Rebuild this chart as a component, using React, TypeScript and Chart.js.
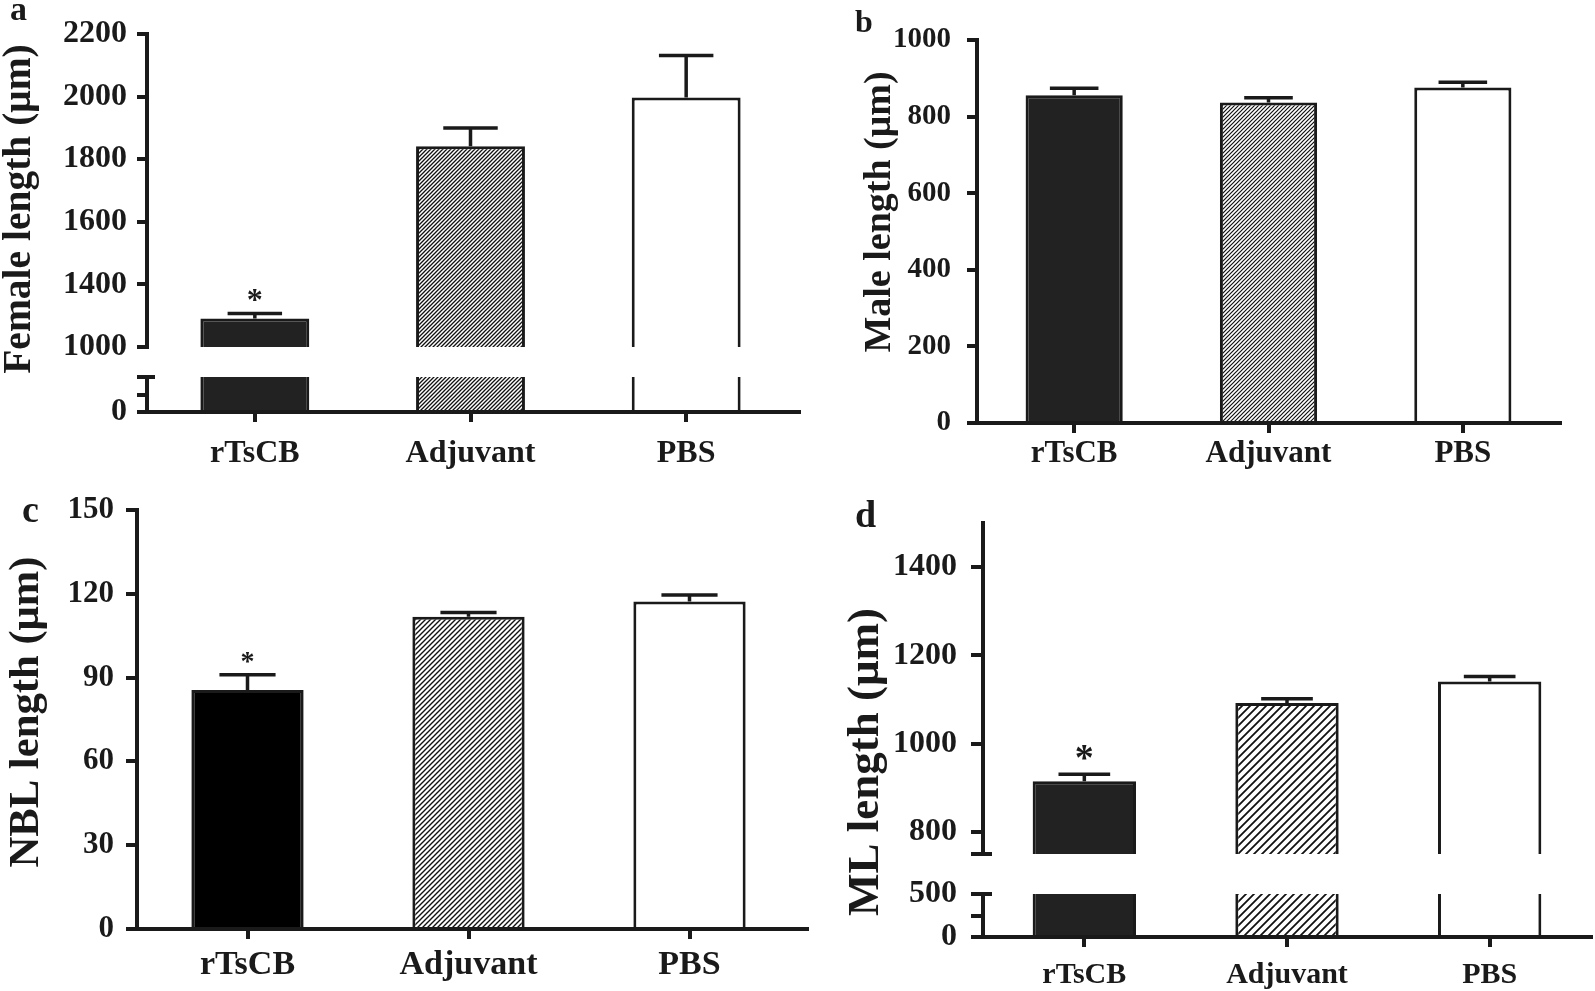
import React, { useEffect, useRef } from 'react';
import { Chart, registerables } from 'chart.js';

Chart.register(...registerables);

// ---------------- data ----------------
const groups = ['rTsCB', 'Adjuvant', 'PBS'];

const femaleLength = [1291, 1841, 1997];
const femaleSem = [16, 59, 134];
const femaleMarks = ['*', '', ''];
const femaleUpperTicks = [1200, 1400, 1600, 1800, 2000, 2200];
const femaleUpperLabels = ['1000', '1400', '1600', '1800', '2000', '2200'];
const femaleLowerTicks = [0, 500, 1000];
const femaleLowerLabels = ['0', '', ''];

const maleLength = [856, 837, 876];
const maleSem = [18, 12, 14];
const maleMarks = ['', '', ''];
const maleTicks = [0, 200, 400, 600, 800, 1000];
const maleLabels = ['0', '200', '400', '600', '800', '1000'];

const nblLength = [85.6, 111.8, 117.2];
const nblSem = [5.4, 1.5, 2.4];
const nblMarks = ['*', '', ''];
const nblTicks = [0, 30, 60, 90, 120, 150];
const nblLabels = ['0', '30', '60', '90', '120', '150'];

const mlLength = [915, 1092, 1141];
const mlSem = [15.5, 10, 11];
const mlMarks = ['*', '', ''];
const mlUpperTicks = [750, 800, 1000, 1200, 1400];
const mlUpperLabels = ['', '800', '1000', '1200', '1400'];
const mlLowerTicks = [0, 250, 500];
const mlLowerLabels = ['0', '', '500'];

// ---------------- style ----------------
const SERIF = '"Liberation Serif", "Times New Roman", serif';
const INK = '#1a1a1a';

function makeHatch(spacing: number, lw: number) {
  const c = document.createElement('canvas');
  c.width = spacing;
  c.height = spacing;
  const g = c.getContext('2d')!;
  g.fillStyle = '#ffffff';
  g.fillRect(0, 0, spacing, spacing);
  g.strokeStyle = '#111';
  g.lineWidth = lw;
  g.beginPath();
  g.moveTo(-1, spacing + 1);
  g.lineTo(spacing + 1, -1);
  g.moveTo(-2, 2);
  g.lineTo(2, -2);
  g.moveTo(spacing - 2, spacing + 2);
  g.lineTo(spacing + 2, spacing - 2);
  g.stroke();
  return g.createPattern(c, 'repeat');
}

type TextItem = {
  text: string;
  x: number;
  y: number;
  size: number;
  rotate?: number;
  align?: CanvasTextAlign;
  baseline?: CanvasTextBaseline;
};

type Seg = {
  area: { left: number; top: number; right: number; bottom: number };
  canvasLeft: number;
  padTop: number;
  padRight: number;
  padBottom?: number;
  xHeight?: number;
  xExtend?: number;
  showX: boolean;
  min: number;
  max: number;
  ticks: number[];
  tickLabels: string[];
  tickFont: number;
  tickPad: number;
  tickLen: number;
  catFont?: number;
  catPad?: number;
  barPct: number;
  values: number[];
  errors?: number[];
  marks?: string[];
  markFont?: number;
  markOffset?: number;
  hatchSpacing: number;
  hatchWidth: number;
  darkFill: string;
  capRight?: { top?: number; bottom?: number };
  texts?: TextItem[];
};

function canvasBox(s: Seg) {
  const top = s.area.top - s.padTop;
  const height = s.showX
    ? s.area.bottom - top + (s.xHeight || 0)
    : s.area.bottom - top + (s.padBottom || 0);
  const width = s.area.right - s.canvasLeft + s.padRight;
  return { left: s.canvasLeft, top, width, height };
}

function buildConfig(s: Seg): any {
  const box = canvasBox(s);
  const pattern = makeHatch(s.hatchSpacing, s.hatchWidth);

  const errorPlugin = {
    id: 'errs',
    afterDatasetsDraw(chart: any) {
      if (!s.errors) return;
      const ctx = chart.ctx;
      const ys = chart.scales.y;
      const meta = chart.getDatasetMeta(0);
      ctx.save();
      ctx.strokeStyle = INK;
      ctx.lineWidth = 3.5;
      ctx.lineCap = 'butt';
      meta.data.forEach((bar: any, i: number) => {
        const v = s.values[i];
        const e = s.errors![i];
        const yTop = ys.getPixelForValue(v);
        const yCap = ys.getPixelForValue(v + e);
        const half = bar.width * 0.25;
        ctx.beginPath();
        ctx.moveTo(bar.x, yTop);
        ctx.lineTo(bar.x, yCap);
        ctx.moveTo(bar.x - half, yCap);
        ctx.lineTo(bar.x + half, yCap);
        ctx.stroke();
        const m = s.marks ? s.marks[i] : '';
        if (m) {
          ctx.fillStyle = INK;
          ctx.font = `bold ${s.markFont || 32}px ${SERIF}`;
          ctx.textAlign = 'center';
          ctx.textBaseline = 'alphabetic';
          ctx.fillText(m, bar.x, yCap - (s.markOffset || 0));
        }
      });
      ctx.restore();
    },
  };

  const capPlugin = {
    id: 'caps',
    afterDraw(chart: any) {
      const ctx = chart.ctx;
      const a = chart.chartArea;
      ctx.save();
      ctx.strokeStyle = INK;
      ctx.lineWidth = 4;
      ctx.beginPath();
      if (s.capRight && s.capRight.top) {
        ctx.moveTo(a.left - 2, a.top);
        ctx.lineTo(a.left + s.capRight.top, a.top);
      }
      if (s.capRight && s.capRight.bottom) {
        ctx.moveTo(a.left - 2, a.bottom);
        ctx.lineTo(a.left + s.capRight.bottom, a.bottom);
      }
      if (s.showX && s.xExtend) {
        const y = Math.round(a.bottom);
        ctx.moveTo(a.right - 2, y);
        ctx.lineTo(a.right + s.xExtend, y);
      }
      ctx.stroke();
      ctx.restore();
    },
  };

  const textPlugin = {
    id: 'texts',
    afterDraw(chart: any) {
      if (!s.texts) return;
      const ctx = chart.ctx;
      s.texts.forEach((t) => {
        ctx.save();
        ctx.translate(t.x - box.left, t.y - box.top);
        if (t.rotate) ctx.rotate(t.rotate);
        ctx.font = `bold ${t.size}px ${SERIF}`;
        ctx.fillStyle = INK;
        ctx.textAlign = t.align || 'center';
        ctx.textBaseline = t.baseline || 'middle';
        ctx.fillText(t.text, 0, 0);
        ctx.restore();
      });
    },
  };

  return {
    type: 'bar',
    data: {
      labels: groups,
      datasets: [
        {
          data: s.values,
          backgroundColor: [s.darkFill, pattern, '#ffffff'],
          borderColor: INK,
          borderWidth: 3,
          clip: 0,
          categoryPercentage: 1,
          barPercentage: s.barPct,
        },
      ],
    },
    options: {
      animation: false,
      responsive: false,
      maintainAspectRatio: false,
      devicePixelRatio: 1,
      layout: {
        padding: {
          left: 0,
          top: s.padTop,
          right: s.padRight,
          bottom: s.showX ? 0 : s.padBottom || 0,
        },
      },
      plugins: {
        legend: { display: false },
        tooltip: { enabled: false },
        title: { display: false },
      },
      scales: {
        x: {
          type: 'category',
          display: s.showX,
          offset: true,
          grid: {
            display: true,
            offset: false,
            drawOnChartArea: false,
            drawTicks: true,
            tickLength: 10,
            lineWidth: 4,
            color: INK,
          },
          border: { display: true, width: 4, color: INK },
          ticks: {
            color: INK,
            padding: s.catPad || 0,
            maxRotation: 0,
            autoSkip: false,
            font: { family: SERIF, size: s.catFont || 30, weight: 'bold', lineHeight: 1 },
          },
          afterFit: (sc: any) => {
            sc.height = s.showX ? s.xHeight || 50 : 0;
          },
        },
        y: {
          type: 'linear',
          min: s.min,
          max: s.max,
          afterBuildTicks: (sc: any) => {
            sc.ticks = s.ticks.map((v) => ({ value: v }));
          },
          grid: {
            display: true,
            drawOnChartArea: false,
            drawTicks: true,
            tickLength: s.tickLen,
            lineWidth: 4,
            color: INK,
          },
          border: { display: true, width: 4, color: INK },
          ticks: {
            color: INK,
            padding: s.tickPad,
            autoSkip: false,
            font: { family: SERIF, size: s.tickFont, weight: 'bold', lineHeight: 1 },
            callback: (_v: any, i: number) => s.tickLabels[i],
          },
          afterFit: (sc: any) => {
            sc.width = s.area.left - s.canvasLeft;
          },
        },
      },
    },
    plugins: [errorPlugin, capPlugin, textPlugin],
  };
}

function ChartCanvas({ seg }: { seg: Seg }) {
  const ref = useRef<HTMLCanvasElement | null>(null);
  const box = canvasBox(seg);
  useEffect(() => {
    if (!ref.current) return;
    const chart = new Chart(ref.current, buildConfig(seg));
    return () => chart.destroy();
  }, []);
  return (
    <canvas
      ref={ref}
      width={box.width}
      height={box.height}
      style={{
        position: 'absolute',
        left: box.left,
        top: box.top,
        width: box.width,
        height: box.height,
      }}
    />
  );
}

// ---------------- panels ----------------
const UP = -Math.PI / 2;

const segments: Seg[] = [
  // a upper
  {
    area: { left: 147, top: 34, right: 794, bottom: 347 },
    canvasLeft: 0,
    padTop: 34,
    padRight: 10,
    padBottom: 40,
    showX: false,
    min: 1200,
    max: 2200,
    ticks: femaleUpperTicks,
    tickLabels: femaleUpperLabels,
    tickFont: 32,
    tickPad: 10,
    tickLen: 10,
    barPct: 0.505,
    values: femaleLength,
    errors: femaleSem,
    marks: femaleMarks,
    markFont: 32,
    markOffset: 4,
    hatchSpacing: 4,
    hatchWidth: 1.3,
    darkFill: '#222222',
    texts: [
      { text: 'a', x: 10, y: 20, size: 34, align: 'left', baseline: 'alphabetic' },
      { text: 'Female length (\u03bcm)', x: 20, y: 209, size: 39.5, rotate: UP },
    ],
  },
  // a lower
  {
    area: { left: 147, top: 371, right: 794, bottom: 412 },
    canvasLeft: 0,
    padTop: 20,
    padRight: 12,
    xHeight: 60,
    xExtend: 7,
    showX: true,
    min: 0,
    max: 1000,
    ticks: femaleLowerTicks,
    tickLabels: femaleLowerLabels,
    tickFont: 32,
    tickPad: 10,
    tickLen: 10,
    catFont: 32,
    catPad: 16,
    barPct: 0.505,
    values: femaleLength,
    hatchSpacing: 4,
    hatchWidth: 1.3,
    darkFill: '#222222',
    capRight: { top: 8 },
  },
  // b
  {
    area: { left: 977, top: 40, right: 1560, bottom: 423 },
    canvasLeft: 836,
    padTop: 40,
    padRight: 10,
    xHeight: 60,
    showX: true,
    min: 0,
    max: 1000,
    ticks: maleTicks,
    tickLabels: maleLabels,
    tickFont: 29,
    tickPad: 16,
    tickLen: 10,
    catFont: 31,
    catPad: 5,
    barPct: 0.5,
    values: maleLength,
    errors: maleSem,
    marks: maleMarks,
    hatchSpacing: 4,
    hatchWidth: 1.2,
    darkFill: '#222222',
    texts: [
      { text: 'b', x: 855, y: 32, size: 32, align: 'left', baseline: 'alphabetic' },
      { text: 'Male length (\u03bcm)', x: 880, y: 212, size: 38, rotate: UP },
    ],
  },
  // c
  {
    area: { left: 137, top: 510, right: 800, bottom: 929 },
    canvasLeft: 0,
    padTop: 30,
    padRight: 14,
    xHeight: 62,
    xExtend: 9,
    showX: true,
    min: 0,
    max: 150,
    ticks: nblTicks,
    tickLabels: nblLabels,
    tickFont: 31,
    tickPad: 12,
    tickLen: 11,
    catFont: 34,
    catPad: 9,
    barPct: 0.508,
    values: nblLength,
    errors: nblSem,
    marks: nblMarks,
    markFont: 28,
    markOffset: 5,
    hatchSpacing: 5,
    hatchWidth: 1.4,
    darkFill: '#000000',
    texts: [
      { text: 'c', x: 22, y: 522, size: 38, align: 'left', baseline: 'alphabetic' },
      { text: 'NBL length (\u03bcm)', x: 27, y: 712, size: 42.7, rotate: UP },
    ],
  },
  // d upper
  {
    area: { left: 983, top: 523, right: 1591, bottom: 854 },
    canvasLeft: 836,
    padTop: 35,
    padRight: 4,
    padBottom: 70,
    showX: false,
    min: 750,
    max: 1500,
    ticks: mlUpperTicks,
    tickLabels: mlUpperLabels,
    tickFont: 32,
    tickPad: 14,
    tickLen: 12,
    barPct: 0.51,
    values: mlLength,
    errors: mlSem,
    marks: mlMarks,
    markFont: 38,
    markOffset: 4,
    hatchSpacing: 8,
    hatchWidth: 1.8,
    darkFill: '#222222',
    capRight: { bottom: 9 },
    texts: [
      { text: 'd', x: 855, y: 527, size: 38, align: 'left', baseline: 'alphabetic' },
      { text: 'ML length (\u03bcm)', x: 866, y: 762, size: 45, rotate: UP },
    ],
  },
  // d lower
  {
    area: { left: 983, top: 884, right: 1591, bottom: 937 },
    canvasLeft: 836,
    padTop: 20,
    padRight: 4,
    xHeight: 54,
    showX: true,
    min: 0,
    max: 500,
    ticks: mlLowerTicks,
    tickLabels: mlLowerLabels,
    tickFont: 32,
    tickPad: 14,
    tickLen: 12,
    catFont: 30,
    catPad: 13,
    barPct: 0.51,
    values: mlLength,
    hatchSpacing: 8,
    hatchWidth: 1.8,
    darkFill: '#222222',
    capRight: { top: 9 },
  },
];

export default function App() {
  return (
    <div
      style={{
        position: 'absolute',
        left: 0,
        top: 0,
        width: 1595,
        height: 991,
        background: '#ffffff',
        overflow: 'hidden',
      }}
    >
      {segments.map((seg, i) => (
        <ChartCanvas key={i} seg={seg} />
      ))}
    </div>
  );
}
